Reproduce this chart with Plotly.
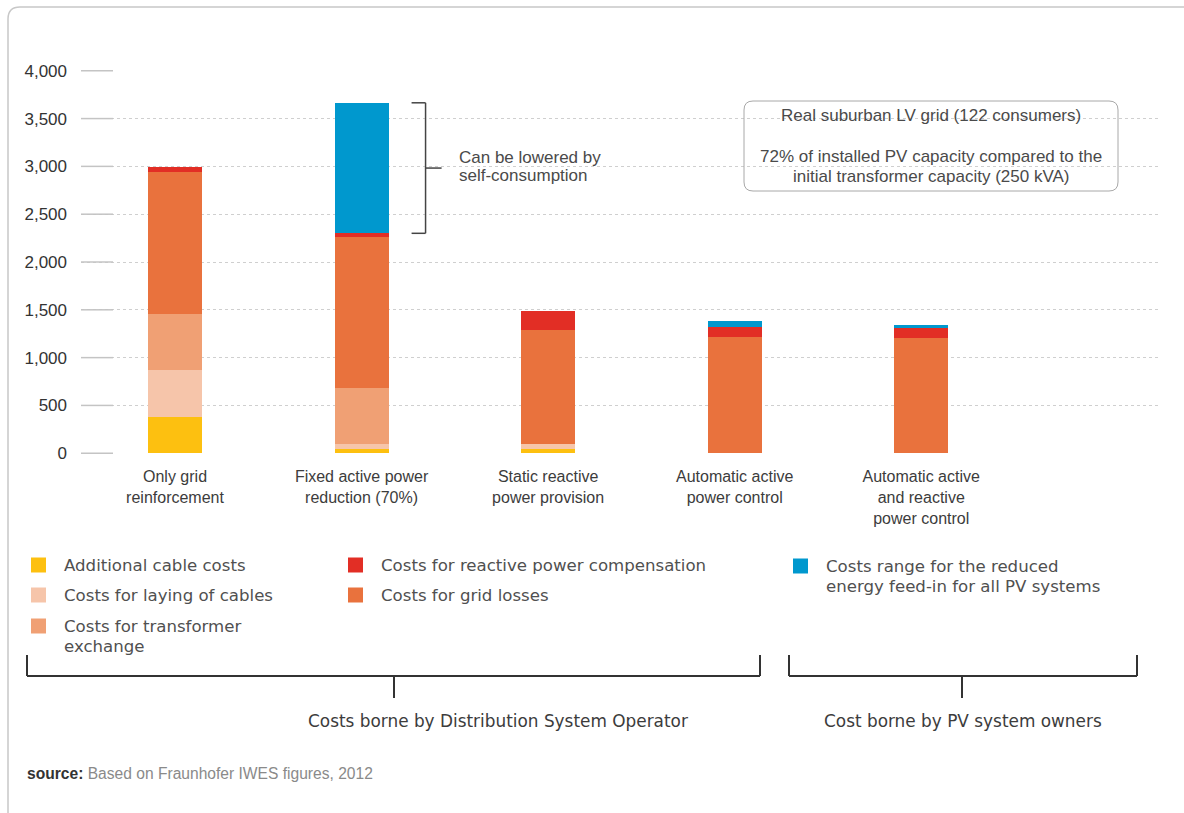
import plotly.graph_objects as go

# ---- data -------------------------------------------------------------
categories = [
    "Only grid<br>reinforcement",
    "Fixed active power<br>reduction (70%)",
    "Static reactive<br>power provision",
    "Automatic active<br>power control",
    "Automatic active<br>and reactive<br>power control",
]
additional_cable_costs = [375, 40, 45, 0, 0]
laying_of_cables = [495, 55, 50, 0, 0]
transformer_exchange = [590, 590, 0, 0, 0]
grid_losses = [1480, 1575, 1190, 1215, 1210]
reactive_power_compensation = [50, 40, 200, 105, 105]
reduced_energy_feed_in = [0, 1365, 0, 60, 30]
y_ticks = [0, 500, 1000, 1500, 2000, 2500, 3000, 3500, 4000]

series_names = [
    "Additional cable costs",
    "Costs for laying of cables",
    "Costs for transformer<br>exchange",
    "Costs for grid losses",
    "Costs for reactive power compensation",
    "Costs range for the reduced<br>energy feed-in for all PV systems",
]
series_values = [
    additional_cable_costs,
    laying_of_cables,
    transformer_exchange,
    grid_losses,
    reactive_power_compensation,
    reduced_energy_feed_in,
]

# ---- style ------------------------------------------------------------
colors = ["#FDC010", "#F6C5AA", "#F0A074", "#E9723D", "#E22E25", "#0098CE"]
SANS = "Liberation Sans, Arial, Helvetica, sans-serif"
WIDE = "DejaVu Sans, Verdana, sans-serif"
TEXT = "#4a4a4a"

W, H = 1184, 813
PL, PR, PT, PB = 81, 1160, 70, 454          # plot area in pixels


def px(p):
    return (p - PL) / (PR - PL)


def py(p):
    return (PB - p) / (PB - PT)


x_pos = list(range(len(categories)))
fig = go.Figure()
for name, vals, col in zip(series_names, series_values, colors):
    fig.add_trace(go.Bar(
        x=x_pos, y=vals, name=name.replace("<br>", " "),
        marker=dict(color=col, line=dict(width=0)),
        width=0.29, showlegend=False,
    ))

shapes = []
annotations = []

# short solid lead-in for each gridline
for t in y_ticks:
    shapes.append(dict(type="line", xref="paper", yref="y", x0=0, x1=px(113),
                       y0=t, y1=t, line=dict(color="#c4c4c4", width=1.5)))

# outer frame with rounded corner
shapes.append(dict(
    type="path", xref="paper", yref="paper",
    path=(f"M {px(8)},{py(813)} L {px(8)},{py(19)} "
          f"Q {px(8)},{py(7)} {px(20)},{py(7)} L {px(1184)},{py(7)}"),
    line=dict(color="#c8c8c8", width=1.5)))

# info box
bx0, bx1, by0, by1, r = 744, 1118, 101, 191, 9
shapes.append(dict(
    type="path", xref="paper", yref="paper",
    path=(f"M {px(bx0 + r)},{py(by0)} L {px(bx1 - r)},{py(by0)} "
          f"Q {px(bx1)},{py(by0)} {px(bx1)},{py(by0 + r)} "
          f"L {px(bx1)},{py(by1 - r)} Q {px(bx1)},{py(by1)} {px(bx1 - r)},{py(by1)} "
          f"L {px(bx0 + r)},{py(by1)} Q {px(bx0)},{py(by1)} {px(bx0)},{py(by1 - r)} "
          f"L {px(bx0)},{py(by0 + r)} Q {px(bx0)},{py(by0)} {px(bx0 + r)},{py(by0)} Z"),
    line=dict(color="#a8a8a8", width=1), fillcolor="rgba(0,0,0,0)"))


def text_lines(lines, x, y_first, dy, size, family, color=TEXT, anchor="center"):
    for i, line in enumerate(lines):
        annotations.append(dict(
            xref="paper", yref="paper", x=px(x), y=py(y_first + i * dy),
            text=line, showarrow=False, xanchor=anchor, yanchor="middle",
            font=dict(size=size, family=family, color=color)))


text_lines(["Real suburban LV grid (122 consumers)"], 931, 115, 20, 17, SANS)
text_lines(["72% of installed PV capacity compared to the",
            "initial transformer capacity (250 kVA)"], 931, 156, 20, 17, SANS)

# bracket over the reduced feed-in part of the second bar
blue_base = sum(v[1] for v in series_values[:-1])
blue_top = blue_base + reduced_energy_feed_in[1]
bx_in, bx_out, bx_tip = 1.268, 1.343, 1.429
bracket = dict(color="#444444", width=1.5)
shapes += [
    dict(type="line", xref="x", yref="y", x0=bx_in, x1=bx_out, y0=blue_top, y1=blue_top, line=bracket),
    dict(type="line", xref="x", yref="y", x0=bx_in, x1=bx_out, y0=blue_base, y1=blue_base, line=bracket),
    dict(type="line", xref="x", yref="y", x0=bx_out, x1=bx_out, y0=blue_base, y1=blue_top, line=bracket),
    dict(type="line", xref="x", yref="y", x0=bx_out, x1=bx_tip,
         y0=(blue_base + blue_top) / 2, y1=(blue_base + blue_top) / 2, line=bracket),
]
text_lines(["Can be lowered by", "self-consumption"], 457, 157, 18.5, 17, SANS, anchor="left")

# legend drawn as squares + labels in three columns
legend_slots = [(31, 565), (31, 595), (31, 626), (348, 595), (348, 565), (793, 566)]
for (lx, ly), name, col in zip(legend_slots, series_names, colors):
    shapes.append(dict(type="rect", xref="paper", yref="paper",
                       x0=px(lx), x1=px(lx + 15), y0=py(ly - 7.5), y1=py(ly + 7.5),
                       fillcolor=col, line=dict(width=0)))
    text_lines(name.split("<br>"), lx + 31, ly, 20, 16.6, WIDE, color="#505050", anchor="left")

# cost-bearer brackets
dark = dict(color="#333333", width=2)
for x0, x1, stem in [(27, 760, 394), (789, 1137, 962)]:
    for a, b, c, d in [(x0, 655, x0, 676), (x1, 655, x1, 676), (x0, 676, x1, 676), (stem, 676, stem, 698)]:
        shapes.append(dict(type="line", xref="paper", yref="paper",
                           x0=px(a), y0=py(b), x1=px(c), y1=py(d), line=dark))
text_lines(["Costs borne by Distribution System Operator"], 498, 721, 20, 16.9, WIDE, color="#3c3c3c")
text_lines(["Cost borne by PV system owners"], 963, 721, 20, 16.9, WIDE, color="#3c3c3c")

text_lines(["<b>source:</b> <span style='color:#8a8a8a'>Based on Fraunhofer IWES figures, 2012</span>"],
           25, 773, 20, 15.6, SANS, color="#333333", anchor="left")

fig.update_layout(
    width=W, height=H,
    margin=dict(l=PL, r=W - PR, t=PT, b=H - PB, pad=0),
    paper_bgcolor="white", plot_bgcolor="white",
    barmode="stack",
    shapes=shapes, annotations=annotations,
    xaxis=dict(
        range=[-0.504, 5.28], tickmode="array", tickvals=x_pos, ticktext=categories,
        showgrid=False, zeroline=False, showline=False, ticks="",
        tickfont=dict(size=16, family=SANS, color="#3c3c3c"),
        ticklabelstandoff=11,
    ),
    yaxis=dict(
        range=[-8, 4008], tickmode="array", tickvals=y_ticks, tickformat=",",
        showgrid=True, gridcolor="#cfcfcf", griddash="dot", gridwidth=1,
        zeroline=False, showline=False, ticks="",
        tickfont=dict(size=17, family=SANS, color="#333333"),
        ticklabelstandoff=13,
    ),
    hovermode=False,
)

fig.write_html("out.html")
